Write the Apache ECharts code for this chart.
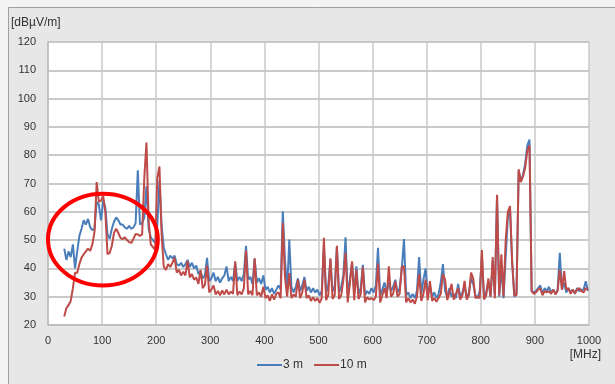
<!DOCTYPE html>
<html>
<head>
<meta charset="utf-8">
<script src="https://cdn.jsdelivr.net/npm/echarts@6/dist/echarts.min.js"></script>
<style>
  html, body { margin: 0; padding: 0; background: #f3f3f3; }
  #chart { width: 615px; height: 384px; }
</style>
</head>
<body>
<div id="chart"></div>
<script>
// frequency grid [MHz]
const freqs = [
  30, 34, 38, 42, 46, 50, 54, 58, 62, 66,
  70, 74, 78, 82, 86, 90, 94, 98, 102, 106,
  110, 114, 118, 122, 126, 130, 134, 138, 142, 146,
  150, 154, 158, 162, 166, 170, 174, 178, 182, 186,
  190, 194, 198, 202, 206, 210, 214, 218, 222, 226,
  230, 234, 238, 242, 246, 250, 254, 258, 262, 266,
  270, 274, 278, 282, 286, 290, 294, 298, 302, 306,
  310, 314, 318, 322, 326, 330, 334, 338, 342, 346,
  350, 354, 358, 362, 366, 370, 374, 378, 382, 386,
  390, 394, 398, 402, 406, 410, 414, 418, 422, 426,
  430, 434, 438, 442, 446, 450, 454, 458, 462, 466,
  470, 474, 478, 482, 486, 490, 494, 498, 502, 506,
  510, 514, 518, 522, 526, 530, 534, 538, 542, 546,
  550, 554, 558, 562, 566, 570, 574, 578, 582, 586,
  590, 594, 598, 602, 606, 610, 614, 618, 622, 626,
  630, 634, 638, 642, 646, 650, 654, 658, 662, 666,
  670, 674, 678, 682, 686, 690, 694, 698, 702, 706,
  710, 714, 718, 722, 726, 730, 734, 738, 742, 746,
  750, 754, 758, 762, 766, 770, 774, 778, 782, 786,
  790, 794, 798, 802, 806, 810, 814, 818, 822, 826,
  830, 834, 838, 842, 846, 850, 854, 858, 862, 866,
  870, 874, 878, 882, 886, 890, 894, 898, 902, 906,
  910, 914, 918, 922, 926, 930, 934, 938, 942, 946,
  950, 954, 958, 962, 966, 970, 974, 978, 982, 986,
  990, 994, 998
];

// field strength at 3 m [dBuV/m]
const level3m = [
  47, 43, 46, 44, 48.5, 40, 46, 51.5, 54, 57,
  55.5, 57.5, 54.5, 53.5, 54, 63.5, 62.5, 57, 64, 61.5,
  52, 50.5, 54, 56.5, 58, 57, 55.5, 55.5, 54.5, 54,
  55, 54, 54.5, 56, 74.7, 55.5, 56, 58, 69, 54,
  51, 50, 49, 55, 71, 55, 47.4, 45, 43, 44.5,
  43.5, 44.5, 41.5, 41, 42, 40.5, 41.5, 43, 40.5, 42,
  40, 41, 38, 39, 36.5, 37.5, 43.7, 35.5, 36.5, 38.5,
  35.5, 37, 35, 36.5, 37.5, 40.7, 35.5, 37, 35.5, 42,
  35.5, 37, 35.5, 38, 48, 36, 37, 34.5, 43.5, 35,
  36.5, 34.5, 37.5, 32.4, 33.5, 31.5, 33, 31, 32.5, 34,
  32.5, 60.2, 43, 32, 50.2, 33.5, 31.5, 33.5, 36.5, 32,
  34, 37, 32, 33.5, 31.5, 33, 31.5, 32.5, 30.5, 32,
  48, 31.5, 34, 43, 32, 33.5, 47.5, 31.5, 33.5, 37.7,
  51, 30.5, 36, 42, 31.5, 40.7, 31, 33, 41.3, 30.5,
  32, 31, 33, 31.5, 34, 47.3, 30.5, 32.5, 35, 31.5,
  35, 32, 33.5, 36, 31.5, 33, 40, 50.4, 30.5, 31.5,
  29.5, 31, 29.5, 32, 44, 31, 36, 40, 30.5, 34,
  30, 31.5, 29.5, 31, 35, 41.5, 32, 30, 33, 30,
  31, 29.5, 34.5, 30, 31.5, 33.5, 29.5, 31.5, 36.5, 34.5,
  30.5, 29.5, 32, 44, 29.5, 31.5, 35.5, 30, 42.5, 30.5,
  65.5, 30, 40.5, 29.5, 44, 58, 61, 42, 30, 31,
  74.5, 71, 73, 77, 83.5, 85.5, 32, 31.5, 32, 33,
  34, 31, 33, 32, 33.5, 31.5, 32.5, 31, 32.5, 45.5,
  32.5, 35, 31.5, 33, 31.5, 32.5, 31, 33, 32, 32.5,
  32.5, 35.5, 32
];

// field strength at 10 m [dBuV/m]
const level10m = [
  23, 26, 27, 28.5, 33, 38.5, 38.5, 41.5, 43.8, 45,
  46, 47, 46.2, 48.5, 53, 70.5, 63.5, 64, 65.5, 60,
  45, 45.5, 48, 52.5, 54, 52.5, 50.8, 50.3, 51, 50,
  49.3, 49, 50.5, 52.2, 52, 51.5, 52, 72, 84.5, 57,
  48.5, 47.5, 46.5, 72, 76, 52, 40.5, 39.5, 41.5, 40.5,
  42, 43.8, 38.5, 39.5, 37.5, 38.8, 37.5, 42.7, 36.8, 38,
  36, 36.8, 34.5, 39.5, 33, 34.2, 41, 31.5, 32.5, 34,
  30.8, 32, 30.5, 32.2, 30.8, 32.5, 30.8, 31.8, 31, 42.5,
  30.5, 31.8, 30.8, 33, 46.5, 30.8, 32, 30.5, 43.6, 30.5,
  31.5, 30, 33.5, 29.5, 30.5, 28.5, 30.8, 29, 31, 31.5,
  29.5, 56, 37, 30, 38.3, 29.5, 30.8, 30, 36, 29.5,
  31.5, 36, 29.5, 30.5, 28.5, 29.8, 28.5, 29.5, 27.8, 29.5,
  50.8, 28.8, 30.5, 43.6, 29.2, 30.5, 48, 29.2, 30.5, 36,
  45.5, 28, 34.5, 42.5, 28.8, 39.5, 29.2, 30.8, 40.5, 28,
  29.8, 29, 29.5, 28.8, 30, 41.8, 28, 30.5, 33, 29.5,
  40.7, 30, 31, 35.4, 30, 31, 40.7, 40.7, 28, 29.5,
  28, 29, 27.5, 30, 38, 28.5, 31, 36, 28.8, 35.5,
  28.5, 29.5, 28.2, 29.5, 31, 38, 36, 28.8, 31.5, 34.5,
  29, 31, 33, 29, 30.5, 35.6, 29, 30.5, 38.5, 36.5,
  29.5, 30, 29.5, 46.5, 29, 30.5, 36.5, 30, 44, 29.5,
  66, 30.5, 45, 30, 50, 60, 62, 42, 30.5, 30.5,
  75, 70.5, 72.5, 75.5, 81.5, 83.5, 32, 31, 31.5, 32.5,
  33, 30.5, 32, 31.5, 32, 31, 32.5, 30.8, 32, 39.5,
  32.5, 39, 32.5, 33, 31, 32.5, 31.2, 32.5, 33, 32,
  31.5, 33, 32.5
];

const seriesNames = ['3 m', '10 m'];

// highlighted region (data units): x from 0 to 203 MHz, y from 34 to 66.4 dB
const markFrom = [0, 34];
const markTo = [203, 66.4];

const chart = echarts.init(document.getElementById('chart'), null, { renderer: 'canvas' });

const axisText = { color: '#333', fontSize: 11, fontFamily: 'Liberation Sans' };

chart.setOption({
  animation: false,
  title: [
    { text: '[dBµV/m]', left: 11, top: 17, padding: 0,
      textStyle: { ...axisText, fontSize: 12, fontWeight: 'normal' } },
    { text: '[MHz]', right: 14, top: 349, padding: 0,
      textStyle: { ...axisText, fontSize: 12, fontWeight: 'normal' } }
  ],
  legend: {
    data: seriesNames,
    left: 257,
    top: 359,
    padding: 0,
    icon: 'rect',
    itemWidth: 25,
    itemHeight: 2,
    itemGap: 11,
    textStyle: { color: '#333', fontSize: 12, fontFamily: 'Liberation Sans', padding: [0, 0, 0, -4] }
  },
  grid: {
    left: 48, right: 26, top: 42, bottom: 59,
    show: true, backgroundColor: '#fff', borderWidth: 0,
    containLabel: false, outerBoundsMode: 'none'
  },
  xAxis: {
    type: 'value',
    min: 0, max: 1000, interval: 100,
    axisLine: { lineStyle: { color: '#bdbdbd', width: 1.5 } },
    axisTick: { show: false },
    axisLabel: { ...axisText, margin: 10, formatter: (v) => String(v) },
    splitLine: { lineStyle: { color: '#c8c8c8', width: 1.5 } }
  },
  yAxis: {
    type: 'value',
    min: 20, max: 120, interval: 10,
    axisLine: { show: true, lineStyle: { color: '#bdbdbd', width: 1.5 } },
    axisTick: { show: false },
    axisLabel: { ...axisText, margin: 12 },
    splitLine: { lineStyle: { color: '#b8b8b8', width: 1.5 } }
  },
  series: [
    {
      name: seriesNames[0],
      type: 'line',
      data: freqs.map((f, i) => [f, level3m[i]]),
      showSymbol: false,
      lineStyle: { color: '#4a7ebb', width: 2 },
      itemStyle: { color: '#4a7ebb' }
    },
    {
      name: seriesNames[1],
      type: 'line',
      data: freqs.map((f, i) => [f, level10m[i]]),
      showSymbol: false,
      lineStyle: { color: '#be4b48', width: 2 },
      itemStyle: { color: '#be4b48' }
    }
  ]
});

// frame + red ellipse placed from data coordinates
const p0 = chart.convertToPixel({ gridIndex: 0 }, markFrom);
const p1 = chart.convertToPixel({ gridIndex: 0 }, markTo);
chart.setOption({
  graphic: [
    {
      type: 'rect', z: -10, silent: true,
      shape: { x: 8.5, y: 7.5, width: 640, height: 400 },
      style: { fill: '#e7e7e7', stroke: '#a0a0a0', lineWidth: 1 }
    },
    {
      type: 'ellipse', z: 100, silent: true,
      shape: {
        cx: (p0[0] + p1[0]) / 2,
        cy: (p0[1] + p1[1]) / 2,
        rx: Math.abs(p1[0] - p0[0]) / 2,
        ry: Math.abs(p1[1] - p0[1]) / 2
      },
      style: { fill: 'none', stroke: '#ff0000', lineWidth: 4 }
    }
  ]
});
</script>
</body>
</html>
